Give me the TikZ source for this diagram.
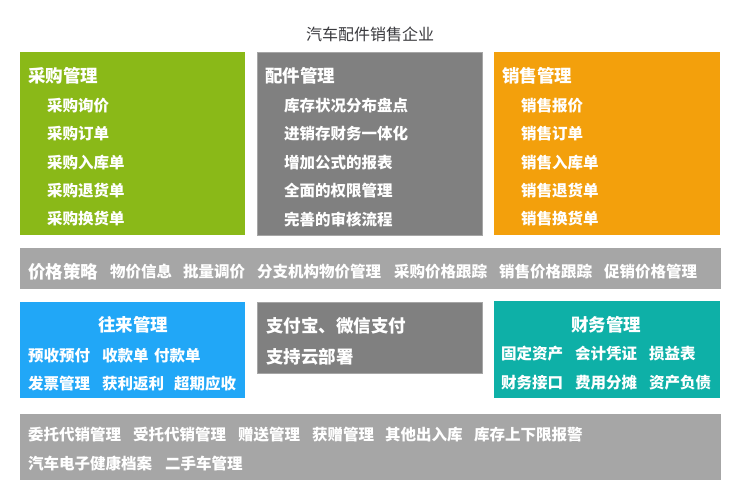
\documentclass[tikz,border=0pt]{standalone}
\usepackage{fontspec}
\setmainfont{Noto Sans CJK SC}
\definecolor{cgreen}{RGB}{138,185,24}
\definecolor{cdgray}{RGB}{128,128,128}
\definecolor{corange}{RGB}{243,160,12}
\definecolor{clgray}{RGB}{166,166,166}
\definecolor{cblue}{RGB}{33,167,247}
\definecolor{cteal}{RGB}{14,176,167}
\definecolor{ctitle}{RGB}{58,58,62}
\begin{document}
\begin{tikzpicture}[x=1pt,y=-1pt,
  box/.style={inner sep=0pt, outer sep=0pt, anchor=north west},
  hd/.style={font=\fontsize{17.5}{17.5}\selectfont\bfseries, text=white, inner sep=0pt, anchor=west},
  it/.style={font=\fontsize{15.5}{15.5}\selectfont\bfseries, text=white, inner sep=0pt, anchor=west},
  ttl/.style={font=\fontsize{16}{16}\selectfont, text=ctitle, inner sep=0pt}
]
\useasboundingbox[fill=white] (0,0) rectangle (736,488);
% title
\node[ttl] (title) at (370,34) {汽车配件销售企业};
% boxes
\node[box, fill=cgreen, minimum width=225pt, minimum height=183pt] (pur) at (20,52) {};
\node[box, fill=cdgray, draw=clgray, line width=0.8pt, minimum width=225pt, minimum height=183pt] (parts) at (257,52) {};
\node[box, fill=corange, minimum width=226pt, minimum height=183pt] (sales) at (494,52) {};
\node[box, fill=clgray, draw=black!35, line width=0.6pt, minimum width=700pt, minimum height=40pt] (price) at (20,248) {};
\node[box, fill=cblue, minimum width=225pt, minimum height=96pt] (deal) at (20,302) {};
\node[box, fill=cdgray, draw=clgray, line width=0.8pt, minimum width=225pt, minimum height=71pt] (pay) at (257,302) {};
\node[box, fill=cteal, minimum width=226pt, minimum height=97pt] (fin) at (494,301) {};
\node[box, fill=clgray, draw=black!35, line width=0.6pt, minimum width=700pt, minimum height=65pt] (misc) at (20,414) {};
% purchase
\node[hd] (p0) at (28,75.5) {采购管理};
\node[it] (p1) at (47,105.5) {采购询价};
\node[it] (p2) at (47,134) {采购订单};
\node[it] (p3) at (47,162.5) {采购入库单};
\node[it] (p4) at (47,191) {采购退货单};
\node[it] (p5) at (47,219) {采购换货单};
% parts
\node[hd] (a0) at (265,75.5) {配件管理};
\node[it] (a1) at (284,105.5) {库存状况分布盘点};
\node[it] (a2) at (284,134) {进销存财务一体化};
\node[it] (a3) at (284,162.5) {增加公式的报表};
\node[it] (a4) at (284,191) {全面的权限管理};
\node[it] (a5) at (284,219) {完善的审核流程};
% sales
\node[hd] (s0) at (502,75.5) {销售管理};
\node[it] (s1) at (521,105.5) {销售报价};
\node[it] (s2) at (521,134) {销售订单};
\node[it] (s3) at (521,162.5) {销售入库单};
\node[it] (s4) at (521,191) {销售退货单};
\node[it] (s5) at (521,219) {销售换货单};
% price bar
\node[hd] (r0) at (28,271.5) {价格策略};
\node[it] (r1) at (110,271.5) {物价信息};
\node[it] (r2) at (183,271.5) {批量调价};
\node[it] (r3) at (257,271.5) {分支机构物价管理};
\node[it] (r4) at (394,271.5) {采购价格跟踪};
\node[it] (r5) at (499,271.5) {销售价格跟踪};
\node[it] (r6) at (604,271.5) {促销价格管理};
% dealings
\node[hd, anchor=center] (d0) at (133,325) {往来管理};
\node[it] (d1) at (28,355.5) {预收预付};
\node[it] (d2) at (102,355.5) {收款单};
\node[it] (d3) at (154,355.5) {付款单};
\node[it] (d4) at (28,384) {发票管理};
\node[it] (d5) at (102,384) {获利返利};
\node[it] (d6) at (174,384) {超期应收};
% pay
\node[hd] (y1) at (266,325.5) {支付宝、微信支付};
\node[hd] (y2) at (266,356.5) {支持云部署};
% finance
\node[hd, anchor=center] (f0) at (606,324.5) {财务管理};
\node[it] (f1) at (501,354) {固定资产};
\node[it] (f2) at (575,354) {会计凭证};
\node[it] (f3) at (649,354) {损益表};
\node[it] (f4) at (501,383) {财务接口};
\node[it] (f5) at (575,383) {费用分摊};
\node[it] (f6) at (649,383) {资产负债};
% misc
\node[it] (m1) at (28,435) {委托代销管理};
\node[it] (m2) at (133,435) {受托代销管理};
\node[it] (m3) at (238,435) {赠送管理};
\node[it] (m4) at (312,435) {获赠管理};
\node[it] (m5) at (385,435) {其他出入库};
\node[it] (m6) at (474,435) {库存上下限报警};
\node[it] (m7) at (28,464) {汽车电子健康档案};
\node[it] (m8) at (165,464) {二手车管理};
\end{tikzpicture}
\end{document}
